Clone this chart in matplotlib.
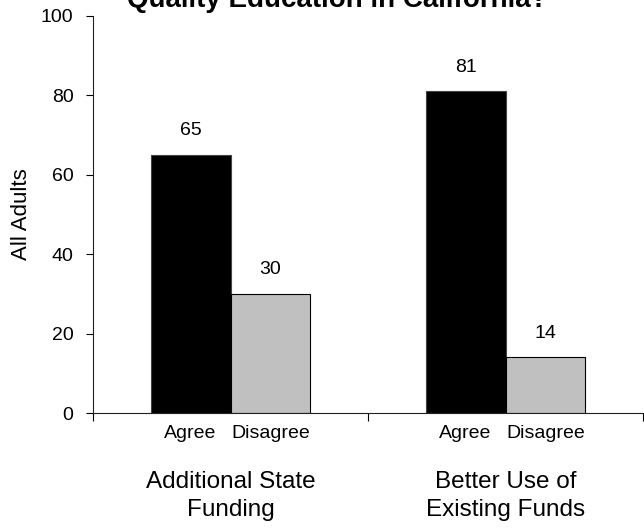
import numpy as np
import matplotlib
matplotlib.use("Agg")
import matplotlib.pyplot as plt
from matplotlib.transforms import blended_transform_factory

plt.rcParams['font.family'] = ['Liberation Sans', 'DejaVu Sans']

# ---- data ----
title = "Quality Education in California?"
groups = ["Additional State\nFunding", "Better Use of\nExisting Funds"]
responses = ["Agree", "Disagree"]
agree = [65, 81]
disagree = [30, 14]
yticks = [0, 20, 40, 60, 80, 100]
ylabel = "All Adults"

W, H, DPI = 644, 531, 100
fig = plt.figure(figsize=(W / DPI, H / DPI), dpi=DPI)
AX_W = 550
ax = fig.add_axes([93 / W, 1 - 413 / H, AX_W / W, (413 - 16) / H])

centers = np.arange(len(groups)) + 0.5
bw = 0.29
b1 = ax.bar(centers - bw / 2, agree, bw, color='black', edgecolor='#444444', linewidth=0.8)
b2 = ax.bar(centers + bw / 2, disagree, bw, color='#c0c0c0', edgecolor='black', linewidth=0.8)

ax.set_xlim(0, len(groups))
ax.set_ylim(0, 100)
ax.set_yticks(yticks)
ax.tick_params(axis='y', direction='out', length=5, width=0.8, labelsize=14, pad=9)
ax.set_xticks(np.arange(len(groups) + 1))
ax.set_xticklabels([])
ax.tick_params(axis='x', direction='out', length=6, width=0.8)
for s in ['top', 'right']:
    ax.spines[s].set_visible(False)
for s in ['left', 'bottom']:
    ax.spines[s].set_linewidth(0.8)
    ax.spines[s].set_color('#222222')

ax.set_ylabel(ylabel, fontsize=16)
ax.yaxis.set_label_coords(-(93 - 32) / AX_W, 0.5)

# value labels
for bars, vals in ((b1, agree), (b2, disagree)):
    for r, v in zip(bars, vals):
        ax.annotate(f"{v}", (r.get_x() + r.get_width() / 2, v), xytext=(0, 24),
                    textcoords='offset pixels', ha='center', va='center', fontsize=14)

tr = blended_transform_factory(ax.transData, fig.transFigure)
for c in centers:
    for off, lab in zip((-bw / 2, bw / 2), responses):
        fig.text(c + off, 1 - 433 / H, lab, transform=tr, ha='center', va='center', fontsize=14)
for c, g in zip(centers, groups):
    fig.text(c, 1 - 496 / H, g, transform=tr, ha='center', va='center', fontsize=17.5,
             linespacing=1.3)

fig.text(337 / W, 1 - 7 / H, title, ha='center', va='baseline', fontsize=20, fontweight='bold')

fig.savefig("out.png", dpi=DPI)
